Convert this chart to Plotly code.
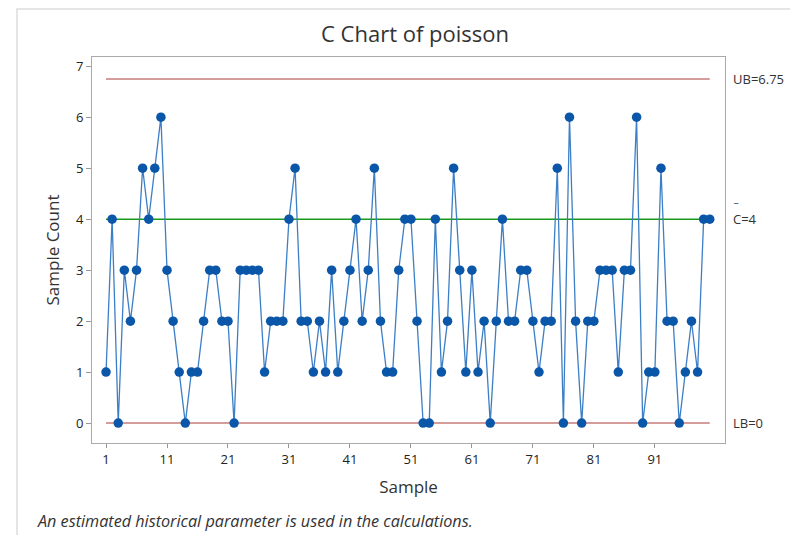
import plotly.graph_objects as go

samples = list(range(1, 101))
counts = [1, 4, 0, 3, 2, 3, 5, 4, 5, 6,
          3, 2, 1, 0, 1, 1, 2, 3, 3, 2,
          2, 0, 3, 3, 3, 3, 1, 2, 2, 2,
          4, 5, 2, 2, 1, 2, 1, 3, 1, 2,
          3, 4, 2, 3, 5, 2, 1, 1, 3, 4,
          4, 2, 0, 0, 4, 1, 2, 5, 3, 1,
          3, 1, 2, 0, 2, 4, 2, 2, 3, 3,
          2, 1, 2, 2, 5, 0, 6, 2, 0, 2,
          2, 3, 3, 3, 1, 3, 3, 6, 0, 1,
          1, 5, 2, 2, 0, 1, 2, 1, 4, 4]
ub = 6.75
center = 4
lb = 0
x_ticks = [1, 11, 21, 31, 41, 51, 61, 71, 81, 91]
y_ticks = [0, 1, 2, 3, 4, 5, 6, 7]

W, H = 790, 527
L, R, T, B = 84, 73, 49, 92
PW, PH = W - L - R, H - T - B


def px(xp):
    return (xp - 8 - L) / PW


def py(yp):
    return (H - B - (yp - 8)) / PH


font = "Open Sans, Noto Sans, sans-serif"
txt = "#333333"
fig = go.Figure()
fig.add_trace(go.Scatter(x=[samples[0], samples[-1]], y=[ub, ub], mode="lines",
                         line=dict(color="#c77b7b", width=1.5), hoverinfo="skip"))
fig.add_trace(go.Scatter(x=[samples[0], samples[-1]], y=[lb, lb], mode="lines",
                         line=dict(color="#c77b7b", width=1.5), hoverinfo="skip"))
fig.add_trace(go.Scatter(x=[samples[0], samples[-1]], y=[center, center], mode="lines",
                         line=dict(color="#1a9a1a", width=1.5), hoverinfo="skip"))
fig.add_trace(go.Scatter(x=samples, y=counts, mode="lines+markers",
                         line=dict(color="#3d7fc6", width=1.3),
                         marker=dict(color="#0a56a8", size=9.5, symbol="circle")))

fig.update_layout(
    width=W, height=H,
    margin=dict(l=L, r=R, t=T, b=B),
    paper_bgcolor="white", plot_bgcolor="white",
    showlegend=False,
    font=dict(family=font, color=txt),
    title=dict(text="C Chart of poisson", x=407 / W, xanchor="center", y=1 - 26 / H, yanchor="middle",
               font=dict(size=22, color=txt, family=font)),
    xaxis=dict(range=[-1.3, 102.5], tickvals=x_ticks, ticks="outside", ticklen=4,
               tickcolor="#999999", showgrid=False, zeroline=False,
               showline=True, linecolor="#aaaaaa", mirror=True,
               tickfont=dict(size=13, color="#222222"),
               title=dict(text="Sample", font=dict(size=17, color=txt), standoff=14)),
    yaxis=dict(range=[-0.39, 7.18], tickvals=y_ticks, ticks="outside", ticklen=5,
               tickcolor="#999999", showgrid=False, zeroline=False,
               showline=True, linecolor="#aaaaaa", mirror=True,
               tickfont=dict(size=13, color="#222222"),
               title=dict(text="Sample Count", font=dict(size=17, color=txt), standoff=12)),
)

ann = [
    dict(text="UB=6.75", x=px(731), xref="paper", y=ub, yref="y", xanchor="left", yanchor="middle",
         showarrow=False, font=dict(size=13, color=txt)),
    dict(text="C=4", x=px(731), xref="paper", y=center, yref="y", xanchor="left", yanchor="middle",
         showarrow=False, font=dict(size=13, color=txt)),
    dict(text="_", x=px(731), xref="paper", y=center + 0.42, yref="y", xanchor="left", yanchor="middle",
         showarrow=False, font=dict(size=10, color=txt)),
    dict(text="LB=0", x=px(731), xref="paper", y=lb, yref="y", xanchor="left", yanchor="middle",
         showarrow=False, font=dict(size=13, color=txt)),
    dict(text="<i>An estimated historical parameter is used in the calculations.</i>",
         x=px(35), xref="paper", y=py(521), yref="paper", xanchor="left", yanchor="middle",
         showarrow=False, font=dict(size=16.2, color=txt)),
]
fig.update_layout(annotations=ann)

# outer light frame
fig.add_shape(type="rect", xref="paper", yref="paper",
              x0=px(17), x1=px(820),
              y0=py(560), y1=py(9),
              line=dict(color="#dddddd", width=1.5), layer="below")

fig.write_html("out.html")
